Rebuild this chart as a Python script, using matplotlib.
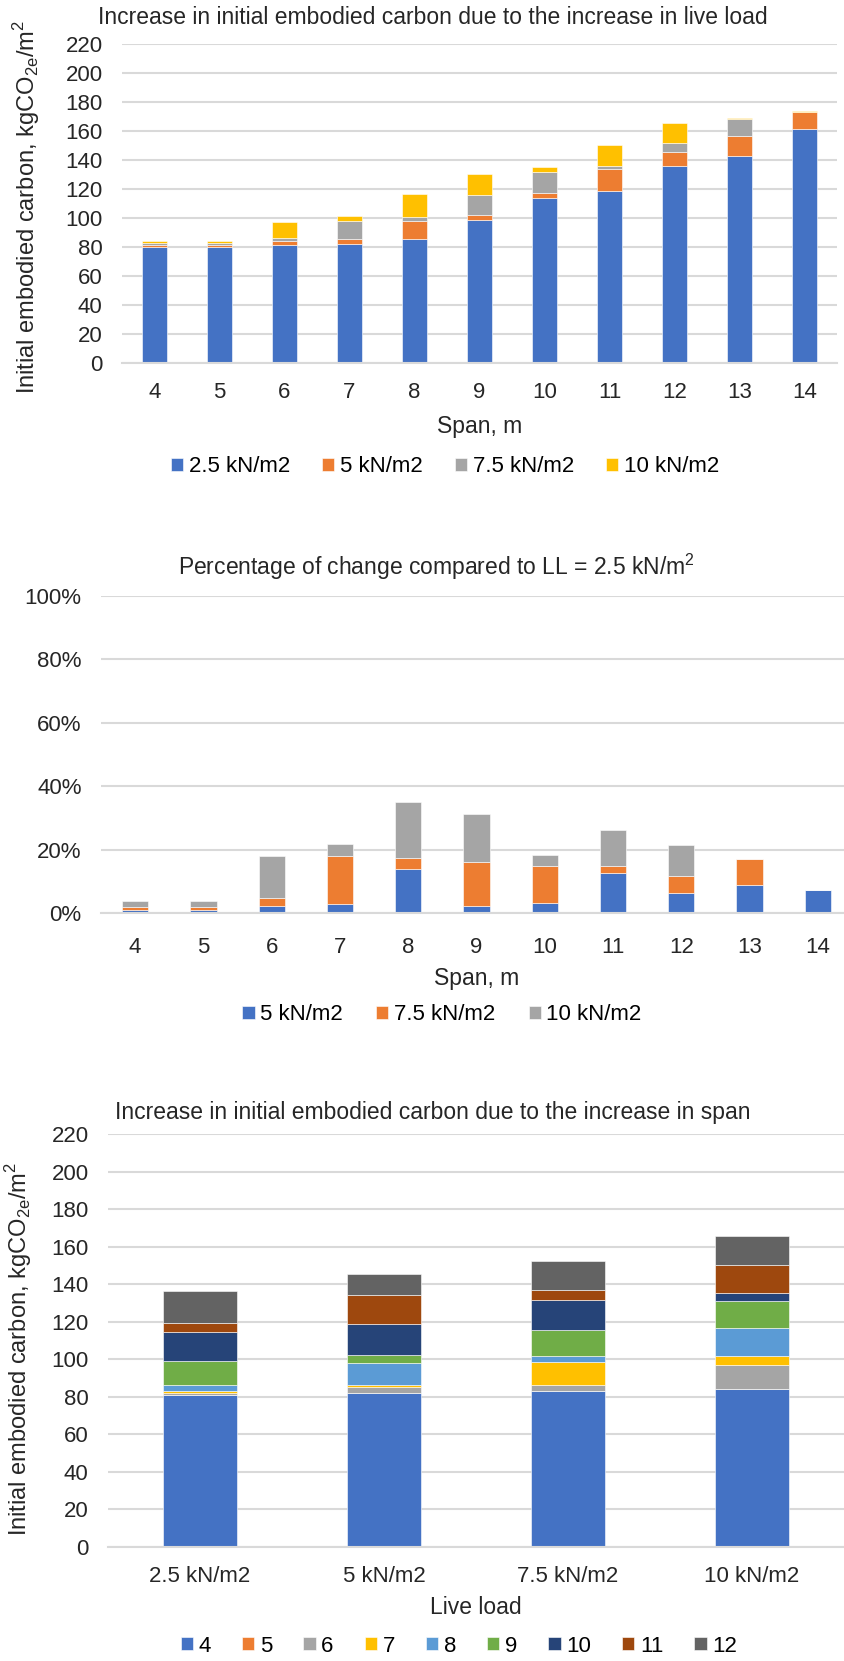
import numpy as np
import matplotlib
matplotlib.use('Agg')
import matplotlib.pyplot as plt
from matplotlib.ticker import FuncFormatter

plt.rcParams['font.family'] = ['Liberation Sans', 'DejaVu Sans']

# --- top chart: embodied carbon per span, stacked by live load increase
spans = ['4', '5', '6', '7', '8', '9', '10', '11', '12', '13', '14']
ll_25 = [80.1, 80.1, 81.5, 82.4, 85.7, 98.7, 113.7, 118.6, 136.2, 143.1, 161.4]
ll_5_add = [1.6, 1.6, 2.8, 3.3, 12.3, 3.2, 3.7, 15.3, 9.2, 13.7, 11.7]
ll_75_add = [0.9, 0.9, 2.1, 12.3, 3.0, 13.7, 14.1, 2.3, 6.5, 11.8, 0.2]
ll_10_add = [1.4, 1.4, 10.9, 3.2, 15.5, 14.8, 3.5, 13.9, 13.5, 0.3, 0.2]

# --- middle chart: percentage change vs LL = 2.5
pct_5 = [1.0, 1.0, 2.2, 2.9, 13.8, 2.2, 3.3, 12.7, 6.4, 8.9, 7.4]
pct_75 = [0.9, 0.9, 2.5, 15.0, 3.4, 13.9, 11.4, 2.0, 5.3, 8.0, 0.0]
pct_10 = [1.9, 1.9, 13.2, 4.0, 17.7, 15.1, 3.6, 11.6, 9.9, 0.2, 0.0]

# --- bottom chart: embodied carbon per live load, stacked by span increase
loads = ['2.5 kN/m2', '5 kN/m2', '7.5 kN/m2', '10 kN/m2']
span_4 = [81.0, 81.8, 82.9, 84.0]
span_5 = [0.1, 0.4, 0.1, 0.1]
span_6 = [0.9, 2.8, 3.2, 13.1]
span_7 = [1.2, 1.2, 12.4, 4.4]
span_8 = [3.3, 11.9, 3.0, 15.0]
span_9 = [12.8, 4.2, 14.1, 14.3]
span_10 = [15.0, 16.3, 16.1, 4.3]
span_11 = [4.8, 15.9, 5.3, 15.2]
span_12 = [17.5, 10.9, 15.2, 15.3]

blue = '#4472C4'
orange = '#ED7D31'
grey = '#A5A5A5'
gold = '#FFC000'
grid_c = '#D9D9D9'
txt = '#262626'

W, H = 844, 1661
fig = plt.figure(figsize=(W / 100, H / 100), dpi=100)


def box(l, r, t, b):
    return [l / W, 1 - b / H, (r - l) / W, (b - t) / H]


def style(ax, xpad=14):
    for s in ['top', 'right', 'left']:
        ax.spines[s].set_visible(False)
    ax.spines['bottom'].set_color(grid_c)
    ax.spines['bottom'].set_linewidth(1.5)
    ax.yaxis.grid(True, color=grid_c, linewidth=1.5)
    ax.set_axisbelow(True)
    ax.tick_params(length=0, labelsize=16, colors=txt)
    ax.tick_params(axis='y', pad=14)
    ax.tick_params(axis='x', pad=xpad)


ylab = r'Initial embodied carbon, kgCO$_{\mathregular{2e}}$/m$^{\mathregular{2}}$'
leg_kw = dict(loc='center', frameon=False, fontsize=16, handlelength=0.55, handleheight=0.55,
              handletextpad=0.25)

# ---------------- top
ax1 = fig.add_axes(box(122, 837, 44, 363))
x = np.arange(len(spans))
bw = 0.385
bot = np.zeros(len(spans))
for vals, c, lab in [(ll_25, blue, '2.5 kN/m2'), (ll_5_add, orange, '5 kN/m2'),
                     (ll_75_add, grey, '7.5 kN/m2'), (ll_10_add, gold, '10 kN/m2')]:
    ax1.bar(x, vals, bw, bottom=bot, color=c, label=lab, edgecolor='white', linewidth=0.4)
    bot += np.array(vals)
ax1.set_xlim(-0.5, len(spans) - 0.5)
ax1.set_ylim(0, 220)
ax1.set_yticks(range(0, 221, 20))
ax1.set_xticks(x)
ax1.set_xticklabels(spans)
style(ax1)
ax1.set_xlabel('Span, m', fontsize=16.5, color=txt, va='center')
ax1.xaxis.set_label_coords(0.5, -(426 - 363) / 319)
ax1.set_ylabel(ylab, fontsize=17, color=txt, va='center')
ax1.yaxis.set_label_coords(-(122 - 27) / 715, 0.49)
fig.text(433 / W, 1 - 17 / H, 'Increase in initial embodied carbon due to the increase in live load',
         ha='center', va='center', fontsize=16.5, color=txt)
fig.legend(*ax1.get_legend_handles_labels(), bbox_to_anchor=(445 / W, 1 - 467 / H),
           ncol=4, columnspacing=1.45, **leg_kw)

# ---------------- middle
ax2 = fig.add_axes(box(101, 852, 596, 913))
bot = np.zeros(len(spans))
for vals, c, lab in [(pct_5, blue, '5 kN/m2'), (pct_75, orange, '7.5 kN/m2'),
                     (pct_10, grey, '10 kN/m2')]:
    ax2.bar(x, vals, bw, bottom=bot, color=c, label=lab, edgecolor='white', linewidth=0.4)
    bot += np.array(vals)
ax2.set_xlim(-0.5, len(spans) - 0.5)
ax2.set_ylim(0, 100)
ax2.set_yticks(range(0, 101, 20))
ax2.yaxis.set_major_formatter(FuncFormatter(lambda v, p: '%d%%' % v))
ax2.set_xticks(x)
ax2.set_xticklabels(spans)
style(ax2, xpad=17)
ax2.set_xlabel('Span, m', fontsize=16.5, color=txt, va='center')
ax2.xaxis.set_label_coords(0.5, -(979 - 913) / 317)
fig.text(436 / W, 1 - 567 / H, r'Percentage of change compared to LL = 2.5 kN/m$^{\mathregular{2}}$',
         ha='center', va='center', fontsize=16.5, color=txt)
fig.legend(*ax2.get_legend_handles_labels(), bbox_to_anchor=(442 / W, 1 - 1015 / H),
           ncol=3, columnspacing=1.5, **leg_kw)

# ---------------- bottom
ax3 = fig.add_axes(box(108, 844, 1134, 1547))
x3 = np.arange(len(loads))
bot = np.zeros(len(loads))
span_sets = [(span_4, '#4472C4', '4'), (span_5, '#ED7D31', '5'), (span_6, '#A5A5A5', '6'),
             (span_7, '#FFC000', '7'), (span_8, '#5B9BD5', '8'), (span_9, '#70AD47', '9'),
             (span_10, '#264478', '10'), (span_11, '#9E480E', '11'), (span_12, '#636363', '12')]
for vals, c, lab in span_sets:
    ax3.bar(x3, vals, 0.4, bottom=bot, color=c, label=lab, edgecolor='white', linewidth=0.4)
    bot += np.array(vals)
ax3.set_xlim(-0.5, len(loads) - 0.5)
ax3.set_ylim(0, 220)
ax3.set_yticks(range(0, 221, 20))
ax3.set_xticks(x3)
ax3.set_xticklabels(loads)
style(ax3)
ax3.set_xlabel('Live load', fontsize=16.5, color=txt, va='center')
ax3.xaxis.set_label_coords(0.5, -(1608 - 1547) / 413)
ax3.set_ylabel(ylab, fontsize=17, color=txt, va='center')
ax3.yaxis.set_label_coords(-(108 - 19) / 736, 0.48)
fig.text(433 / W, 1 - 1112 / H, 'Increase in initial embodied carbon due to the increase in span',
         ha='center', va='center', fontsize=16.5, color=txt)
fig.legend(*ax3.get_legend_handles_labels(), bbox_to_anchor=(459 / W, 1 - 1646 / H),
           ncol=9, columnspacing=1.4, **leg_kw)

fig.savefig('out.png', dpi=100)
